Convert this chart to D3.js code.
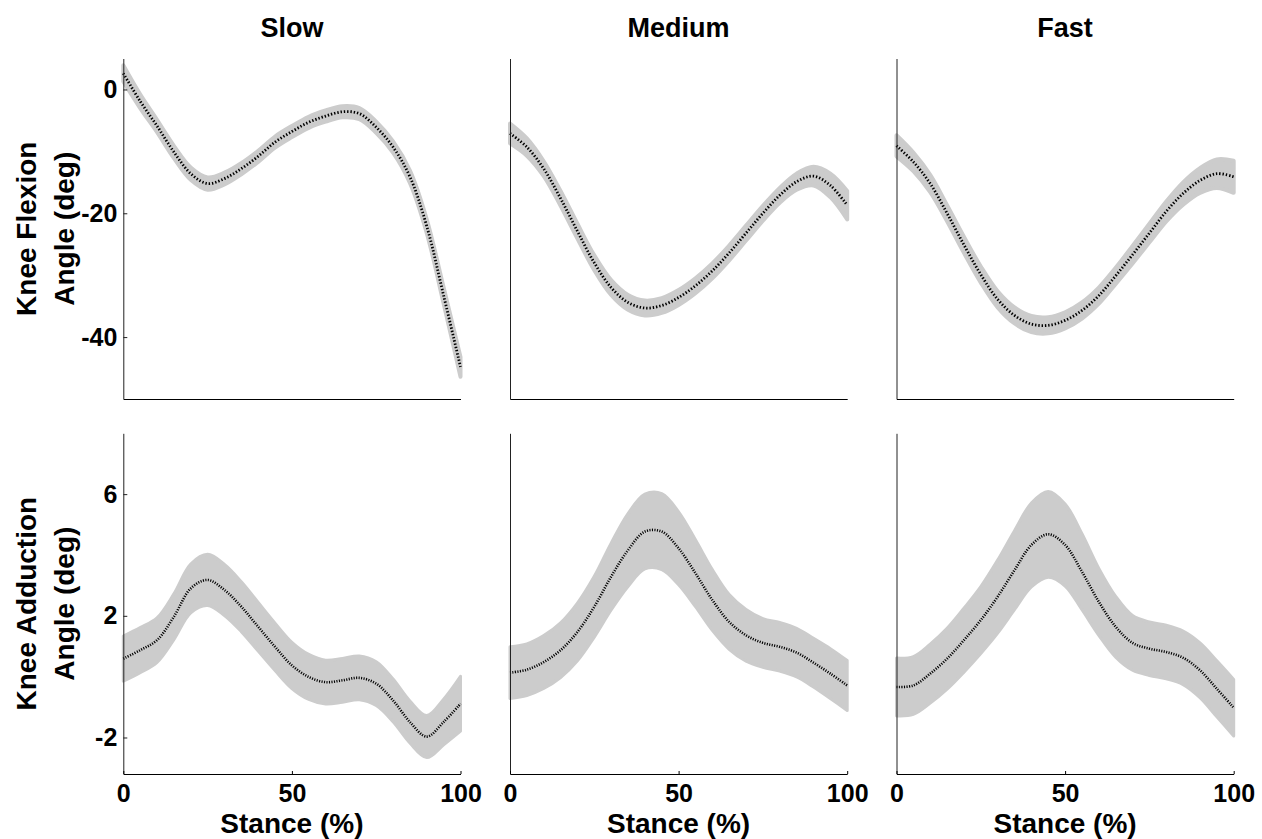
<!DOCTYPE html>
<html><head><meta charset="utf-8">
<script src="https://cdn.jsdelivr.net/npm/d3@7"></script>
<style>
body{margin:0;background:#fff}
text{font-family:"Liberation Sans",Arial,Helvetica,sans-serif;font-weight:bold;fill:#000}
</style>
</head><body>
<svg id="c" width="1262" height="839"></svg>
<script>
// ---------------- data ----------------
const stance = [0,5,10,15,20,25,30,35,40,45,50,55,60,65,70,75,80,85,90,95,100];
const speeds = ["Slow","Medium","Fast"];
const rowLabels = [["Knee Flexion","Angle (deg)"],["Knee Adduction","Angle (deg)"]];
const flexTicks = [-40,-20,0];
const addTicks = [-2,2,6];
const stanceTicks = [0,50,100];

// Knee flexion angle (deg): mean and SD
const flexSlowMean = [2.6,-1.9,-5.9,-10.1,-13.6,-15.2,-14.4,-12.8,-10.8,-8.5,-6.8,-5.3,-4.3,-3.6,-3.9,-6.1,-9.3,-14.1,-22.1,-33.3,-44.8];
const flexSlowSd   = [1.3,1.1,1.0,1.0,1.0,1.0,0.95,0.9,0.9,0.9,0.9,0.9,0.9,0.9,0.9,0.9,0.9,1.0,1.1,1.3,1.6];
const flexMedMean  = [-7.1,-9.3,-12.8,-17.6,-22.9,-28.0,-32.0,-34.4,-35.3,-34.9,-33.6,-31.7,-29.3,-26.4,-23.2,-20.0,-17.1,-14.9,-14.0,-15.5,-18.7];
const flexMedSd    = [1.6,1.4,1.2,1.2,1.2,1.2,1.2,1.2,1.2,1.2,1.2,1.2,1.2,1.2,1.2,1.2,1.2,1.3,1.5,1.9,2.3];
const flexFastMean = [-9.1,-11.7,-15.2,-20.0,-25.1,-29.9,-33.9,-36.5,-37.9,-38.1,-37.3,-35.7,-33.3,-30.1,-26.7,-23.2,-19.7,-16.8,-14.7,-13.6,-14.1];
const flexFastSd   = [1.7,1.5,1.4,1.3,1.3,1.3,1.3,1.3,1.3,1.3,1.3,1.3,1.3,1.3,1.4,1.5,1.6,1.8,2.0,2.3,2.6];

// Knee adduction angle (deg): mean and SD
const addSlowMean = [0.59,0.87,1.2,1.97,2.9,3.18,2.85,2.3,1.64,0.98,0.37,-0.01,-0.18,-0.12,-0.04,-0.23,-0.78,-1.49,-1.97,-1.49,-0.89];
const addSlowSd   = [0.74,0.74,0.73,0.75,0.8,0.84,0.84,0.82,0.8,0.78,0.76,0.74,0.72,0.72,0.72,0.72,0.7,0.69,0.69,0.75,0.9];
const addMedMean  = [0.13,0.23,0.48,0.87,1.47,2.3,3.29,4.16,4.77,4.77,4.22,3.4,2.52,1.8,1.36,1.11,0.98,0.79,0.46,0.1,-0.29];
const addMedSd    = [0.85,0.85,0.87,0.9,0.95,1.0,1.1,1.2,1.23,1.25,1.2,1.1,1.0,0.9,0.85,0.8,0.8,0.8,0.8,0.82,0.82];
const addFastMean = [-0.34,-0.29,0.1,0.59,1.2,1.86,2.63,3.5,4.33,4.68,4.33,3.45,2.46,1.64,1.11,0.92,0.81,0.62,0.21,-0.4,-1.02];
const addFastSd   = [0.95,0.95,0.97,1.0,1.05,1.1,1.2,1.3,1.38,1.41,1.35,1.25,1.1,1.0,0.9,0.88,0.88,0.88,0.9,0.92,0.93];

const flexMeans = [flexSlowMean, flexMedMean, flexFastMean];
const flexSds   = [flexSlowSd, flexMedSd, flexFastSd];
const addMeans  = [addSlowMean, addMedMean, addFastMean];
const addSds    = [addSlowSd, addMedSd, addFastSd];

// ---------------- layout ----------------
const svg = d3.select("#c");
const colX = [123.3, 510, 896.5];
const panelW = 337.2;
const rows = [
  {top:58.5, bottom:399, domain:[-50,5], ticks:flexTicks, means:flexMeans, sds:flexSds, dash:"1.4,1.9", lw:2.8, bw:4},
  {top:433.3, bottom:774, domain:[-3.2,8], ticks:addTicks, means:addMeans, sds:addSds, dash:"1.1,1.4", lw:2.6, bw:3}
];
const FS_TICK = 25, FS_TITLE = 27, FS_LABEL = 28;
const band = "#cccccc";
const fmt = d => String(d); // hyphen-minus, as in the original

rows.forEach((row, ri) => {
  const y = d3.scaleLinear().domain(row.domain).range([row.bottom, row.top]);
  colX.forEach((x0, ci) => {
    const x = d3.scaleLinear().domain([0,100]).range([x0, x0 + panelW]);
    const g = svg.append("g");
    const pts = stance.map((s, i) => ({s, m: row.means[ci][i], sd: row.sds[ci][i]}));

    const area = d3.area().x(d => x(d.s)).y0(d => y(d.m - d.sd)).y1(d => y(d.m + d.sd)).curve(d3.curveCatmullRom);
    g.append("path").datum(pts).attr("d", area)
      .attr("fill", band).attr("stroke", band).attr("stroke-width", row.bw).attr("stroke-linejoin","round");

    const line = d3.line().x(d => x(d.s)).y(d => y(d.m)).curve(d3.curveCatmullRom);
    g.append("path").datum(pts).attr("d", line)
      .attr("fill","none").attr("stroke","#000").attr("stroke-width", row.lw)
      .attr("stroke-dasharray", row.dash);

    // y axis
    const ya = d3.axisLeft(y).tickSizeOuter(0);
    if (ci === 0) ya.tickValues(row.ticks).tickSizeInner(-4).tickPadding(6).tickFormat(fmt);
    else ya.tickValues([]);
    const yg = g.append("g").attr("transform", `translate(${x0},0)`).call(ya);
    yg.select(".domain").attr("stroke","#222");
    yg.selectAll(".tick line").attr("stroke","#222");
    yg.selectAll("text").style("font-size", FS_TICK + "px").attr("fill","#000");

    // x axis
    const xa = d3.axisBottom(x).tickSizeOuter(0);
    if (ri === 1) xa.tickValues(stanceTicks).tickSizeInner(-3).tickPadding(10).tickFormat(fmt);
    else xa.tickValues([]);
    const xg = g.append("g").attr("transform", `translate(0,${row.bottom})`).call(xa);
    xg.select(".domain").attr("stroke","#000");
    xg.selectAll("text").style("font-size", FS_TICK + "px").attr("fill","#000");

    if (ri === 0) {
      svg.append("text").attr("x", x0 + panelW/2).attr("y", 37)
        .attr("text-anchor","middle").style("font-size", FS_TITLE + "px").text(speeds[ci]);
    }
    if (ri === 1) {
      svg.append("text").attr("x", x0 + panelW/2).attr("y", 833)
        .attr("text-anchor","middle").style("font-size", FS_LABEL + "px").text("Stance (%)");
    }
  });
  const cy = (row.top + row.bottom) / 2;
  [36, 74].forEach((bx, li) => {
    svg.append("text").attr("transform", `translate(${bx},${cy}) rotate(-90)`)
      .attr("text-anchor","middle").style("font-size", FS_LABEL + "px").text(rowLabels[ri][li]);
  });
});
</script>
</body></html>
